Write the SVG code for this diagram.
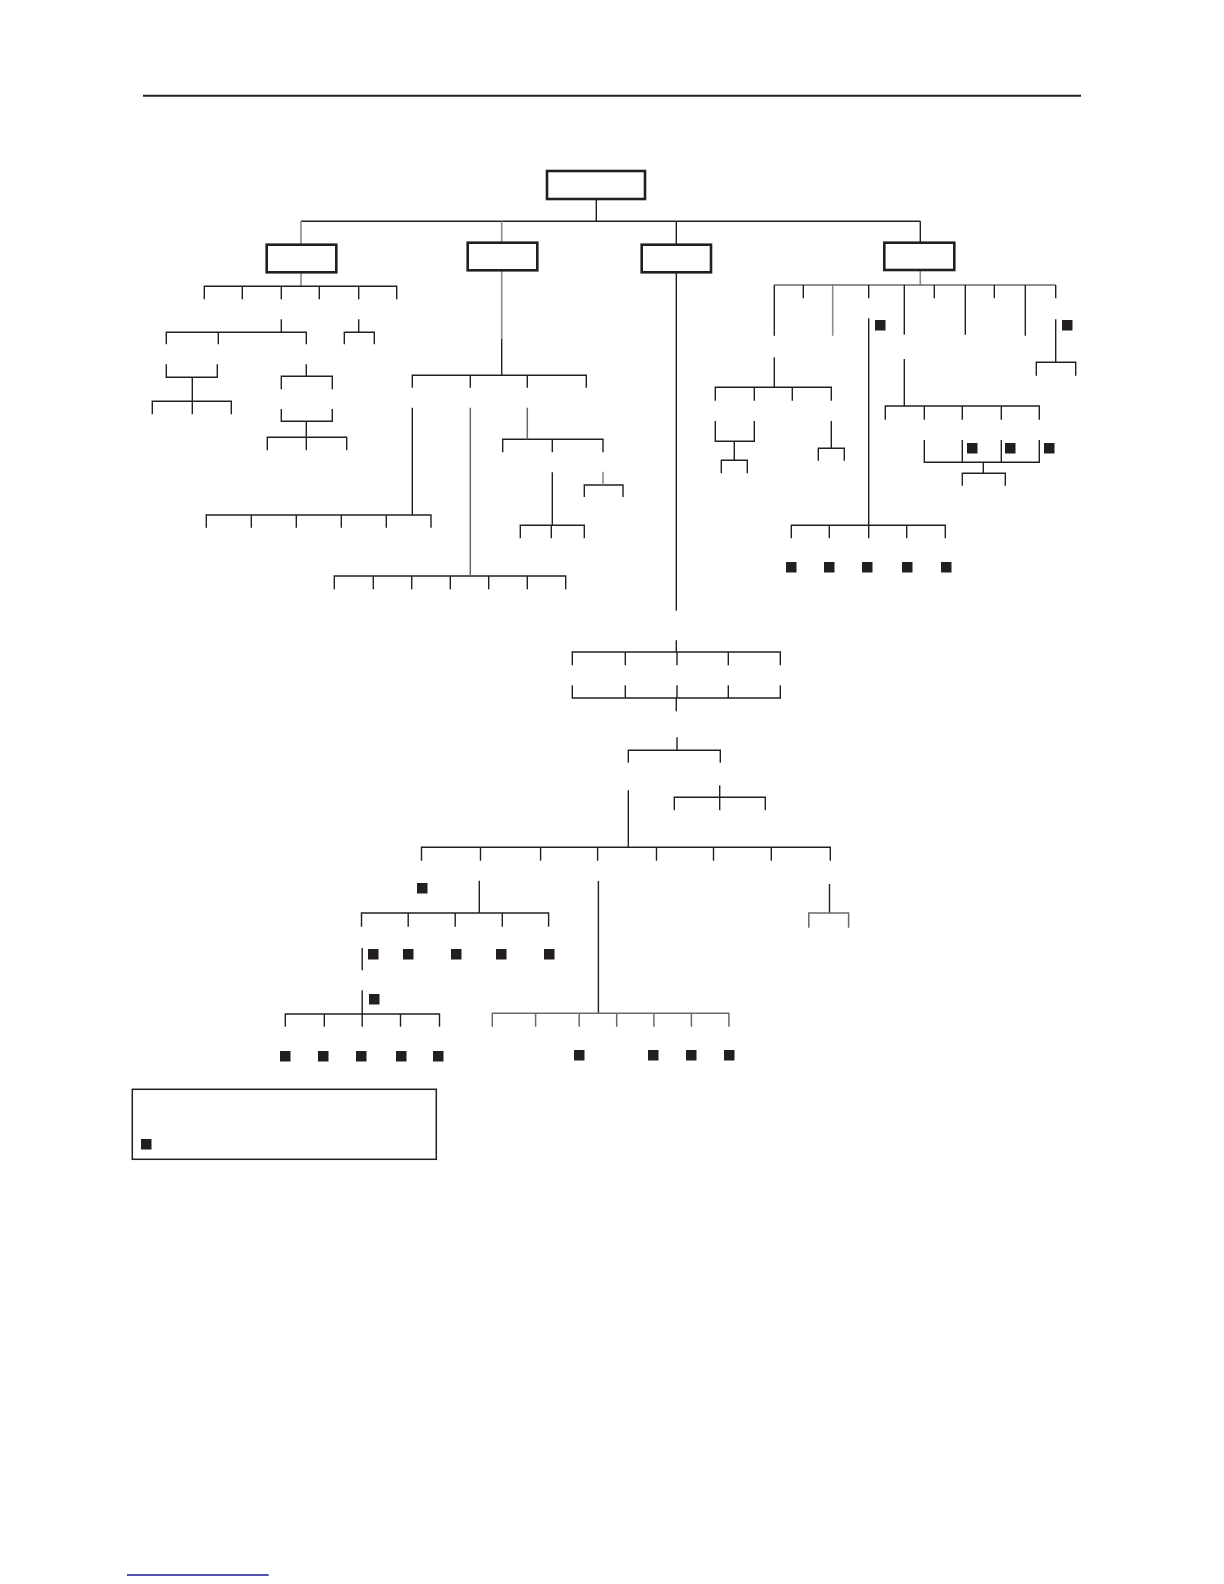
<svg xmlns="http://www.w3.org/2000/svg" width="1224" height="1584" viewBox="0 0 1224 1584">
<style>
.box{fill:#fff;stroke:#231f20;stroke-width:2.6}
.c{fill:none;stroke:#231f20;stroke-width:1.4}
.g{fill:none;stroke:#8c8c8c;stroke-width:1.6}
.d{fill:none;stroke:#6a6a6a;stroke-width:1.5}
.sq{fill:#231f20}
</style>
<rect width="1224" height="1584" fill="#fff"/>
<path d="M143 95.7H1081" stroke="#231f20" stroke-width="2"/>
<g id="connectors">
<path class="c" d="M596.3 199V221.3M301 221.3H920.3M676.3 221.3V244.7M920.3 221.3V242.7"/>
<path class="g" d="M301 221.3V244.7M501.7 221.3V242.7"/>
<!-- box1 subtree -->
<path class="g" d="M301 272.3V286.3"/>
<path class="c" d="M204.3 299.3V286.3H396.7V299.3M242.3 286.3V299.3M281.3 286.3V299.3M319.3 286.3V299.3M358.7 286.3V299.3
M281.3 319.3V332.3M166.3 344.3V332.3H306.3V344.3M218.3 332.3V344.3
M358.7 319.3V332.3M344.3 344.3V332.3H374.3V344.3
M166.3 364.3V377.3H217.3V364.3M192.3 377.3V401.3M152.3 414.3V401.3H231.3V414.3M192.3 401.3V414.3
M306.3 364.3V376.3M281.3 389.3V376.3H332.3V389.3
M281.3 409V421.3H332.3V409M306.3 421.3V437.3M267.3 450.3V437.3H346.7V450.3M306.3 437.3V450.3"/>
<!-- box2 subtree -->
<path class="g" d="M501.7 270.3V339"/>
<path class="c" d="M501.7 339V375.3M412.3 387.7V375.3H586.3V387.7M470.3 375.3V387.7M527.3 375.3V387.7
M412.3 407.7V515M206.3 527.7V515H431V527.7M251.3 515V527.7M296.3 515V527.7M341.3 515V527.7M386.3 515V527.7
M334.3 589.3V576H565.7V589.3M373.3 576V589.3M411.7 576V589.3M450.3 576V589.3M488.7 576V589.3M527.3 576V589.3
M502.7 452.3V439.3H603V452.3M552.3 439.3V452.3
M552.3 472.3V525.3M520.3 538.3V525.3H584.3V538.3M551.3 525.3V538.3
M584.3 497V485H623V497"/>
<path class="d" d="M470.3 407.7V576M527.3 407.7V439.3"/>
<path class="g" d="M603 471.7V485"/>
<!-- box3 subtree -->
<path class="c" d="M676.3 272.3V610.7
M676.3 640.3V652M572.3 665.3V652H780.3V665.3M625.3 652V665.3M677 652V665.3M728.3 652V665.3
M572.3 685.3V698H780.3V685.3M625.3 685.3V698M677 685.3V698M728.3 685.3V698M676.3 698V711.3
M677 737.3V750.3M628.3 762.7V750.3H720.3V762.7
M719.7 785.3V797.3M674.3 810.3V797.3H765.3V810.3M719.7 797.3V810.3
M628.3 790.3V847.3M421.5 860.7V847.3H830.3V860.7M480.5 847.3V860.7M540.6 847.3V860.7M597.6 847.3V860.7M656.5 847.3V860.7M713.5 847.3V860.7M771.3 847.3V860.7
M479.3 880.7V913M361.5 926.7V913H548.6V926.7M408.2 913V926.7M455.2 913V926.7M502.3 913V926.7
M362.2 948V970.3
M362.2 990.3V1014M285.3 1026.7V1014H439.5V1026.7M324.3 1014V1026.7M362.2 1014V1026.7M400.5 1014V1026.7
M598.4 881V1013.3M829.5 884V913"/>
<path class="d" d="M492.3 1026.7V1013.3H728.9V1026.7M535.6 1013.3V1026.7M579.2 1013.3V1026.7M616.7 1013.3V1026.7M653.9 1013.3V1026.7M691.4 1013.3V1026.7
M808.8 927.7V913H848.6V927.7"/>
<!-- box4 subtree -->
<path class="g" d="M920.3 270V285M832.7 285V335.7"/>
<path class="d" d="M774.3 285H1055.7"/>
<path class="c" d="M774.3 285V335.7M904.3 285V334.7M965.3 285V334.7M1025.3 285V335.7
M803.3 285V298.3M868.7 285V298.3M934.3 285V298.3M994.3 285V298.3M1055.7 285V298.3
M868.7 318.3V525.3M791.3 538.3V525.3H945.3V538.3M829.3 525.3V538.3M868.7 525.3V538.3M906.7 525.3V538.3
M774.3 357.3V387.3M715.3 400.7V387.3H831.3V400.7M754.3 387.3V400.7M792.3 387.3V400.7
M715.3 421V441.3H754.3V421M734.3 441.3V460.3M721.3 473.3V460.3H747.3V473.3
M831.3 421V448.3M818.3 460.7V448.3H844.3V460.7
M904.3 359V406M885.3 419.7V406H1039.3V419.7M924.3 406V419.7M962.3 406V419.7M1001.3 406V419.7
M924.3 440V462.3H1039.3V440M962.3 440V462.3M1001.3 440V462.3M983.3 462.3V473.3M962.3 485.7V473.3H1005.3V485.7
M1055.7 319.3V362.3M1036.3 375.7V362.3H1075.7V375.7"/>
</g>
<g id="root"><rect class="box" x="547" y="171" width="98" height="28"/></g>
<g id="node-a"><rect class="box" x="266.7" y="244.7" width="69.6" height="27.6"/></g>
<g id="node-b"><rect class="box" x="467.7" y="242.7" width="69.6" height="27.6"/></g>
<g id="node-c"><rect class="box" x="641.7" y="244.7" width="69.3" height="27.6"/></g>
<g id="node-d"><rect class="box" x="884.3" y="242.7" width="70" height="27.3"/></g>
<g id="markers">
<rect class="sq" x="875" y="320" width="10.5" height="10.5"/>
<rect class="sq" x="1062" y="320" width="10.5" height="10.5"/>
<rect class="sq" x="786" y="562" width="10.5" height="10.5"/>
<rect class="sq" x="824" y="562" width="10.5" height="10.5"/>
<rect class="sq" x="862" y="562" width="10.5" height="10.5"/>
<rect class="sq" x="902" y="562" width="10.5" height="10.5"/>
<rect class="sq" x="941" y="562" width="10.5" height="10.5"/>
<rect class="sq" x="967" y="443" width="10.5" height="10.5"/>
<rect class="sq" x="1005" y="443" width="10.5" height="10.5"/>
<rect class="sq" x="1044" y="443" width="10.5" height="10.5"/>
<rect class="sq" x="417" y="883" width="10.5" height="10.5"/>
<rect class="sq" x="368" y="949" width="10.5" height="10.5"/>
<rect class="sq" x="403" y="949" width="10.5" height="10.5"/>
<rect class="sq" x="451" y="949" width="10.5" height="10.5"/>
<rect class="sq" x="496" y="949" width="10.5" height="10.5"/>
<rect class="sq" x="544" y="949" width="10.5" height="10.5"/>
<rect class="sq" x="369" y="994" width="10.5" height="10.5"/>
<rect class="sq" x="280" y="1051" width="10.5" height="10.5"/>
<rect class="sq" x="318" y="1051" width="10.5" height="10.5"/>
<rect class="sq" x="356" y="1051" width="10.5" height="10.5"/>
<rect class="sq" x="396" y="1051" width="10.5" height="10.5"/>
<rect class="sq" x="433" y="1051" width="10.5" height="10.5"/>
<rect class="sq" x="574" y="1050" width="10.5" height="10.5"/>
<rect class="sq" x="648" y="1050" width="10.5" height="10.5"/>
<rect class="sq" x="686" y="1050" width="10.5" height="10.5"/>
<rect class="sq" x="724" y="1050" width="10.5" height="10.5"/>
</g>
<g id="legend">
<rect x="132.3" y="1089.3" width="304" height="70" fill="none" stroke="#231f20" stroke-width="1.5"/>
<rect class="sq" x="141" y="1139" width="10.5" height="10.5"/>
</g>
<path d="M127 1575H268.7" stroke="#1a1a8c" stroke-width="1.3"/>
</svg>
